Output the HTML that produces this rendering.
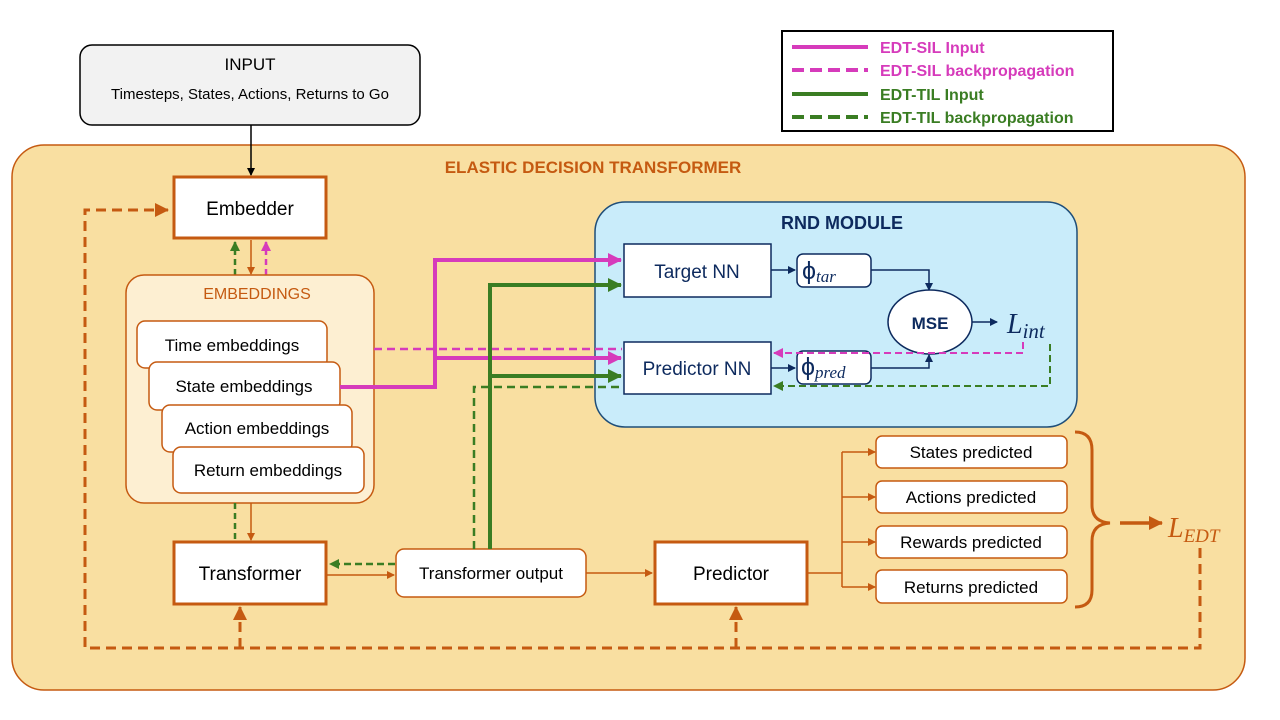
<!DOCTYPE html>
<html><head><meta charset="utf-8"><style>
html,body{margin:0;padding:0;background:#fff;width:1280px;height:720px;overflow:hidden}
text{font-family:"Liberation Sans",sans-serif}
.m{font-family:"Liberation Serif",serif;font-style:italic}
</style></head><body>
<svg width="1280" height="720" viewBox="0 0 1280 720" xmlns="http://www.w3.org/2000/svg">
<defs>
<marker id="ao" markerWidth="8" markerHeight="8" refX="7" refY="4" orient="auto" markerUnits="userSpaceOnUse"><path d="M0,0 L8,4 L0,8z" fill="#c55a11"/></marker>
<marker id="aoL" markerWidth="14" markerHeight="14" refX="13" refY="7" orient="auto" markerUnits="userSpaceOnUse"><path d="M0,0 L14,7 L0,14z" fill="#c55a11"/></marker>
<marker id="ab" markerWidth="8" markerHeight="8" refX="7" refY="4" orient="auto" markerUnits="userSpaceOnUse"><path d="M0,0 L8,4 L0,8z" fill="#000"/></marker>
<marker id="an" markerWidth="8" markerHeight="8" refX="7" refY="4" orient="auto" markerUnits="userSpaceOnUse"><path d="M0,0 L8,4 L0,8z" fill="#0d2a5e"/></marker>
<marker id="ap" markerWidth="14" markerHeight="14" refX="13" refY="7" orient="auto" markerUnits="userSpaceOnUse"><path d="M0,0 L14,7 L0,14z" fill="#d63bbb"/></marker>
<marker id="ag" markerWidth="14" markerHeight="14" refX="13" refY="7" orient="auto" markerUnits="userSpaceOnUse"><path d="M0,0 L14,7 L0,14z" fill="#3a7d23"/></marker>
<marker id="aps" markerWidth="10" markerHeight="10" refX="9" refY="5" orient="auto" markerUnits="userSpaceOnUse"><path d="M0,0 L10,5 L0,10z" fill="#d63bbb"/></marker>
<marker id="ags" markerWidth="10" markerHeight="10" refX="9" refY="5" orient="auto" markerUnits="userSpaceOnUse"><path d="M0,0 L10,5 L0,10z" fill="#3a7d23"/></marker>
</defs>

<rect x="80" y="45" width="340" height="80" rx="12" fill="#f2f2f2" stroke="#000" stroke-width="1.5"/>
<text x="250" y="70" font-size="17" text-anchor="middle">INPUT</text>
<text x="250" y="99" font-size="15" text-anchor="middle">Timesteps, States, Actions, Returns to Go</text>

<rect x="782" y="31" width="331" height="100" fill="#fff" stroke="#000" stroke-width="2"/>
<line x1="792" y1="47" x2="868" y2="47" stroke="#d63bbb" stroke-width="4"/>
<line x1="792" y1="70" x2="868" y2="70" stroke="#d63bbb" stroke-width="4" stroke-dasharray="12,6"/>
<line x1="792" y1="94" x2="868" y2="94" stroke="#3a7d23" stroke-width="4"/>
<line x1="792" y1="117" x2="868" y2="117" stroke="#3a7d23" stroke-width="4" stroke-dasharray="12,6"/>
<g font-size="16" font-weight="bold">
<text x="880" y="53" fill="#d63bbb">EDT-SIL Input</text>
<text x="880" y="76" fill="#d63bbb">EDT-SIL backpropagation</text>
<text x="880" y="100" fill="#3a7d23">EDT-TIL Input</text>
<text x="880" y="123" fill="#3a7d23">EDT-TIL backpropagation</text>
</g>

<rect x="12" y="145" width="1233" height="545" rx="32" fill="#f9dfa1" stroke="#c55a11" stroke-width="1.5"/>
<text x="593" y="173" font-size="17" font-weight="bold" fill="#c55a11" text-anchor="middle">ELASTIC DECISION TRANSFORMER</text>

<line x1="251" y1="125" x2="251" y2="175" stroke="#000" stroke-width="1.5" marker-end="url(#ab)"/>

<rect x="595" y="202" width="482" height="225" rx="30" fill="#c9ecfa" stroke="#1f4e79" stroke-width="1.5"/>
<text x="842" y="229" font-size="18" font-weight="bold" fill="#0d2a5e" text-anchor="middle">RND MODULE</text>

<path d="M1200,548 V648 H85 V210 H168" fill="none" stroke="#c55a11" stroke-width="3" stroke-dasharray="10,6" marker-end="url(#aoL)"/>
<line x1="240" y1="648" x2="240" y2="607" stroke="#c55a11" stroke-width="3" stroke-dasharray="10,6" marker-end="url(#aoL)"/>
<line x1="736" y1="648" x2="736" y2="607" stroke="#c55a11" stroke-width="3" stroke-dasharray="10,6" marker-end="url(#aoL)"/>

<rect x="174" y="177" width="152" height="61" fill="#fff" stroke="#c55a11" stroke-width="3"/>
<text x="250" y="215" font-size="19" text-anchor="middle">Embedder</text>

<line x1="235" y1="275" x2="235" y2="242" stroke="#3a7d23" stroke-width="2.5" stroke-dasharray="6,4" marker-end="url(#ags)"/>
<line x1="251" y1="240" x2="251" y2="274" stroke="#c55a11" stroke-width="1.5" marker-end="url(#ao)"/>
<line x1="266" y1="275" x2="266" y2="242" stroke="#d63bbb" stroke-width="2.5" stroke-dasharray="6,4" marker-end="url(#aps)"/>

<rect x="126" y="275" width="248" height="228" rx="18" fill="#fdefd2" stroke="#c55a11" stroke-width="1.5"/>
<text x="257" y="299" font-size="16" fill="#c55a11" text-anchor="middle">EMBEDDINGS</text>
<g font-size="17" stroke="#c55a11" stroke-width="1.5">
<rect x="137" y="321" width="190" height="47" rx="8" fill="#fff"/>
<rect x="149" y="362" width="191" height="48" rx="8" fill="#fff"/>
<rect x="162" y="405" width="190" height="47" rx="8" fill="#fff"/>
<rect x="173" y="447" width="191" height="46" rx="8" fill="#fff"/>
</g>
<g font-size="17">
<text x="232" y="351" text-anchor="middle">Time embeddings</text>
<text x="244" y="392" text-anchor="middle">State embeddings</text>
<text x="257" y="434" text-anchor="middle">Action embeddings</text>
<text x="268" y="476" text-anchor="middle">Return embeddings</text>
</g>

<line x1="235" y1="503" x2="235" y2="541" stroke="#3a7d23" stroke-width="2.5" stroke-dasharray="6,4"/>
<line x1="251" y1="503" x2="251" y2="540" stroke="#c55a11" stroke-width="1.5" marker-end="url(#ao)"/>

<rect x="174" y="542" width="152" height="62" fill="#fff" stroke="#c55a11" stroke-width="3"/>
<text x="250" y="580" font-size="19" text-anchor="middle">Transformer</text>
<line x1="395" y1="564" x2="330" y2="564" stroke="#3a7d23" stroke-width="2.5" stroke-dasharray="7,4" marker-end="url(#ags)"/>
<line x1="327" y1="575" x2="394" y2="575" stroke="#c55a11" stroke-width="1.5" marker-end="url(#ao)"/>

<rect x="396" y="549" width="190" height="48" rx="8" fill="#fff" stroke="#c55a11" stroke-width="1.5"/>
<text x="491" y="579" font-size="17" text-anchor="middle">Transformer output</text>
<line x1="586" y1="573" x2="652" y2="573" stroke="#c55a11" stroke-width="1.5" marker-end="url(#ao)"/>

<rect x="655" y="542" width="152" height="62" fill="#fff" stroke="#c55a11" stroke-width="3"/>
<text x="731" y="580" font-size="19" text-anchor="middle">Predictor</text>
<path d="M807,573 H842 M842,452 V587" stroke="#c55a11" stroke-width="1.5" fill="none"/>
<g stroke="#c55a11" stroke-width="1.5">
<line x1="842" y1="452" x2="875" y2="452" marker-end="url(#ao)"/>
<line x1="842" y1="497" x2="875" y2="497" marker-end="url(#ao)"/>
<line x1="842" y1="542" x2="875" y2="542" marker-end="url(#ao)"/>
<line x1="842" y1="587" x2="875" y2="587" marker-end="url(#ao)"/>
</g>
<g stroke="#c55a11" stroke-width="1.5" fill="#fff">
<rect x="876" y="436" width="191" height="32" rx="6"/>
<rect x="876" y="481" width="191" height="32" rx="6"/>
<rect x="876" y="526" width="191" height="32" rx="6"/>
<rect x="876" y="570" width="191" height="33" rx="6"/>
</g>
<g font-size="17" text-anchor="middle">
<text x="971" y="458">States predicted</text>
<text x="971" y="503">Actions predicted</text>
<text x="971" y="548">Rewards predicted</text>
<text x="971" y="593">Returns predicted</text>
</g>
<path d="M1075,432 Q1092,432 1092,450 V505 Q1092,522 1110,523 Q1092,524 1092,541 V590 Q1092,607 1075,607" fill="none" stroke="#c55a11" stroke-width="3"/>
<line x1="1120" y1="523" x2="1162" y2="523" stroke="#c55a11" stroke-width="3.5" marker-end="url(#aoL)"/>
<text x="1168" y="537" class="m" font-size="28" fill="#c55a11">L<tspan font-size="19" dy="5">EDT</tspan></text>

<path d="M340,387 H435 V260 H621" fill="none" stroke="#d63bbb" stroke-width="4" marker-end="url(#ap)"/>
<path d="M435,358 H621" fill="none" stroke="#d63bbb" stroke-width="4" marker-end="url(#ap)"/>
<path d="M374,349 H622" fill="none" stroke="#d63bbb" stroke-width="2.5" stroke-dasharray="8,5"/>
<path d="M490,549 V285 H621" fill="none" stroke="#3a7d23" stroke-width="4" marker-end="url(#ag)"/>
<path d="M490,376 H621" fill="none" stroke="#3a7d23" stroke-width="4" marker-end="url(#ag)"/>
<path d="M474,549 V387 H622" fill="none" stroke="#3a7d23" stroke-width="2.5" stroke-dasharray="8,5"/>

<rect x="624" y="244" width="147" height="53" fill="#fff" stroke="#0d2a5e" stroke-width="1.5"/>
<text x="697" y="278" font-size="19" fill="#0d2a5e" text-anchor="middle">Target NN</text>
<rect x="624" y="342" width="147" height="52" fill="#fff" stroke="#0d2a5e" stroke-width="1.5"/>
<text x="697" y="375" font-size="19" fill="#0d2a5e" text-anchor="middle">Predictor NN</text>
<rect x="797" y="254" width="74" height="33" rx="6" fill="#fff" stroke="#0d2a5e" stroke-width="1.5"/>
<text x="802" y="279" font-size="25" fill="#0d2a5e" font-family="Liberation Serif,serif">ϕ<tspan class="m" font-size="17" dy="3">tar</tspan></text>
<rect x="797" y="351" width="74" height="33" rx="6" fill="#fff" stroke="#0d2a5e" stroke-width="1.5"/>
<text x="801" y="375" font-size="25" fill="#0d2a5e" font-family="Liberation Serif,serif">ϕ<tspan class="m" font-size="17" dy="3">pred</tspan></text>
<g stroke="#0d2a5e" stroke-width="1.5" fill="none">
<line x1="771" y1="270" x2="795" y2="270" marker-end="url(#an)"/>
<line x1="771" y1="368" x2="795" y2="368" marker-end="url(#an)"/>
<path d="M871,270 H929 V290" marker-end="url(#an)"/>
<path d="M871,368 H929 V355" marker-end="url(#an)"/>
<line x1="972" y1="322" x2="997" y2="322" marker-end="url(#an)"/>
</g>
<ellipse cx="930" cy="322" rx="42" ry="32" fill="#fff" stroke="#0d2a5e" stroke-width="1.5"/>
<text x="930" y="329" font-size="17" font-weight="bold" fill="#0d2a5e" text-anchor="middle">MSE</text>
<text x="1007" y="333" class="m" font-size="28" fill="#0d2a5e">L<tspan font-size="21" dy="5">int</tspan></text>
<path d="M1023,342 V353 H774" fill="none" stroke="#d63bbb" stroke-width="2" stroke-dasharray="7,4" marker-end="url(#aps)"/>
<path d="M1050,344 V386 H774" fill="none" stroke="#3a7d23" stroke-width="2" stroke-dasharray="7,4" marker-end="url(#ags)"/>
</svg>
</body></html>
